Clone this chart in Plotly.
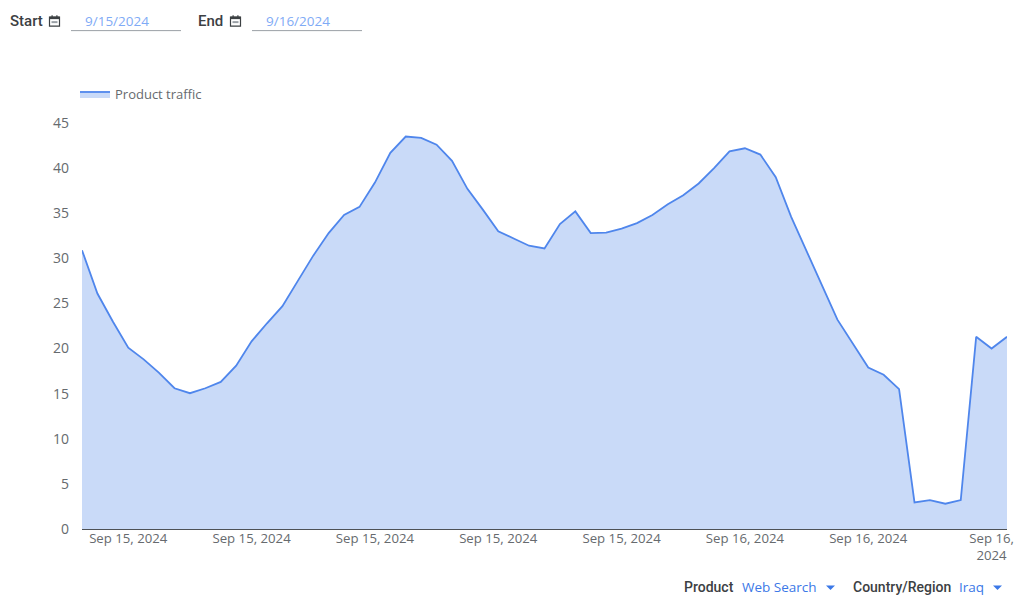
import plotly.graph_objects as go

# Product traffic, one sample every step
traffic = [
    30.9, 26.1, 23.0, 20.1, 18.8, 17.3, 15.6, 15.05, 15.6, 16.3,
    18.1, 20.8, 22.8, 24.7, 27.5, 30.3, 32.8, 34.8, 35.7, 38.4,
    41.7, 43.5, 43.35, 42.6, 40.8, 37.7, 35.4, 33.0, 32.2, 31.4,
    31.1, 33.8, 35.2, 32.8, 32.85, 33.3, 33.9, 34.8, 36.0, 37.0,
    38.3, 40.0, 41.85, 42.2, 41.5, 39.0, 34.6, 30.9, 27.0, 23.2,
    20.5, 17.9, 17.1, 15.5, 2.95, 3.2, 2.8, 3.2, 21.3, 20.0,
    21.3,
]
samples = list(range(len(traffic)))
x_labels = [
    "Sep 15, 2024", "Sep 15, 2024", "Sep 15, 2024", "Sep 15, 2024",
    "Sep 15, 2024", "Sep 16, 2024", "Sep 16, 2024", "Sep 16,<br>2024",
]
y_ticks = [0, 5, 10, 15, 20, 25, 30, 35, 40, 45]

WIDTH, HEIGHT = 1024, 606
LEFT, RIGHT, TOP, BOTTOM = 82, 17, 123, 76.5
FONT = "Open Sans"
HEAD_FONT = "Roboto"
LINE = "#4f86ec"
FILL = "#c9daf8"
MUTED = "#666a6e"
DARK = "#3c4043"
DATE_BLUE = "#7fabf6"
LINK_BLUE = "#3b78e7"


def px(x):
    return (x - LEFT) / (WIDTH - LEFT - RIGHT)


def py(y):
    return 1 - (y - TOP) / (HEIGHT - TOP - BOTTOM)


def label(x, y, text, color, size=14, anchor="left", family=FONT, weight=None):
    font = dict(family=family, size=size, color=color)
    if weight:
        font["weight"] = weight
    return dict(x=px(x), y=py(y), xref="paper", yref="paper", text=text, showarrow=False,
                xanchor=anchor, yanchor="middle", xshift=-2, font=font)


def path_shape(points, **kwargs):
    path = "M " + " L ".join(f"{px(a):.5f} {py(b):.5f}" for a, b in points) + " Z"
    return dict(type="path", path=path, xref="paper", yref="paper", **kwargs)


def calendar(x):
    # small calendar glyph next to the date fields
    return [
        path_shape([(x, 17), (x + 10, 17), (x + 10, 26), (x, 26)], line=dict(color=DARK, width=1.2),
                   fillcolor="white"),
        path_shape([(x, 16.5), (x + 10, 16.5), (x + 10, 19), (x, 19)], line=dict(width=0), fillcolor=DARK),
        path_shape([(x + 2, 15), (x + 3.2, 15), (x + 3.2, 17), (x + 2, 17)], line=dict(width=0), fillcolor=DARK),
        path_shape([(x + 6.8, 15), (x + 8, 15), (x + 8, 17), (x + 6.8, 17)], line=dict(width=0), fillcolor=DARK),
        path_shape([(x + 2, 21), (x + 8, 21), (x + 8, 23), (x + 2, 23)], line=dict(width=0), fillcolor="#9aa0a6"),
    ]


def underline(x0, x1, y):
    return dict(type="line", xref="paper", yref="paper", x0=px(x0), x1=px(x1), y0=py(y), y1=py(y),
                line=dict(color="#9aa0a6", width=1))


def caret(x, y):
    return path_shape([(x, y), (x + 9, y), (x + 4.5, y + 4.5)], line=dict(width=0), fillcolor=LINK_BLUE)


fig = go.Figure()
fig.add_trace(go.Scatter(
    x=samples, y=traffic, mode="lines", name="Product traffic",
    fill="tozeroy", fillcolor=FILL, line=dict(color=LINE, width=1.8),
))

fig.update_layout(
    width=WIDTH, height=HEIGHT,
    margin=dict(l=LEFT, r=RIGHT, t=TOP, b=BOTTOM),
    paper_bgcolor="white", plot_bgcolor="white",
    font=dict(family=FONT, size=13, color=MUTED),
    showlegend=True,
    legend=dict(x=px(75), y=py(94), xanchor="left", yanchor="middle", itemwidth=30,
                bgcolor="rgba(0,0,0,0)", font=dict(family=FONT, size=13, color=MUTED)),
    annotations=[
        label(10, 20.5, "Start", DARK, 15, family=HEAD_FONT, weight=500),
        label(85, 21, "9/15/2024", DATE_BLUE, 13.5),
        label(198, 20.5, "End", DARK, 15, family=HEAD_FONT, weight=500),
        label(266, 21, "9/16/2024", DATE_BLUE, 13.5),
        label(684, 588, "Product", DARK, 14, family=HEAD_FONT, weight=500),
        label(742, 588, "Web Search", LINK_BLUE, 13.5),
        label(853, 588, "Country/Region", DARK, 14, family=HEAD_FONT, weight=500),
        label(959, 588, "Iraq", LINK_BLUE, 13.5),
    ],
    shapes=calendar(49.5) + calendar(230.5) + [
        underline(71, 181, 30.5),
        underline(252, 362, 30.5),
        caret(826, 586),
        caret(993, 586),
    ],
)
fig.update_xaxes(
    range=[samples[0], samples[-1]], automargin=False,
    tickmode="array", tickvals=samples[3::8], ticktext=x_labels,
    showgrid=False, zeroline=False, showline=False, ticks="", tickangle=0,
    tickfont=dict(family=FONT, size=13.2, color=MUTED),
)
fig.update_yaxes(
    range=[0, 45], automargin=False, tickmode="array", tickvals=y_ticks,
    showgrid=False, zeroline=True, zerolinecolor="#4d5156", zerolinewidth=1.2,
    showline=False, ticks="", ticklabelstandoff=12,
    tickfont=dict(family=FONT, size=14, color=MUTED),
)

fig.write_html(
    "out.html",
    config={"displayModeBar": False},
    post_script="document.body.style.margin='0';document.body.style.overflow='hidden';",
)
